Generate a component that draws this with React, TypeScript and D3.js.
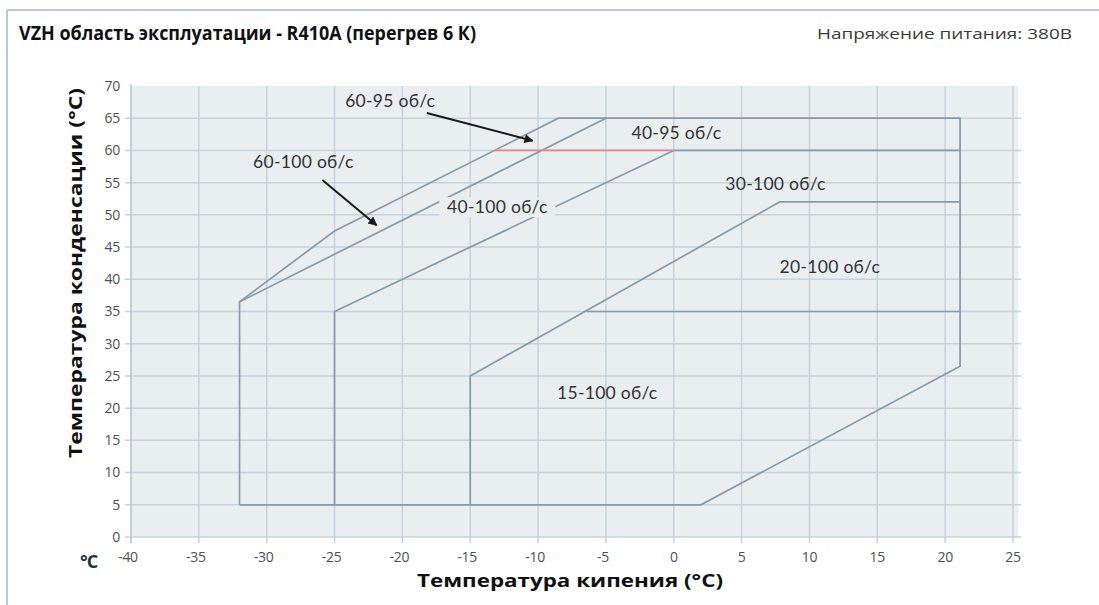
import React from 'react'
import * as d3 from 'd3'

// axis ticks
const xTicks = [-40, -35, -30, -25, -20, -15, -10, -5, 0, 5, 10, 15, 20, 25]
const yTicks = [0, 5, 10, 15, 20, 25, 30, 35, 40, 45, 50, 55, 60, 65, 70]

// envelope boundaries, [evaporating °C, condensing °C]
const envelope: [number, number][] = [[-32, 5], [2, 5], [21.1, 26.5], [21.1, 65], [-8.5, 65], [-25, 47.5], [-32, 36.5], [-32, 5]]
const line6095: [number, number][] = [[-32, 36.5], [-5, 65]]
const line4095: [number, number][] = [[0, 60], [21.1, 60]]
const redLine: [number, number][] = [[-13.2, 60], [0, 60]]
const line40100: [number, number][] = [[-25, 5], [-25, 35], [0, 60]]
const line30100: [number, number][] = [[-15, 5], [-15, 25], [7.8, 52], [21.1, 52]]
const line20100: [number, number][] = [[-6.4, 35], [21.1, 35]]

// speed zone labels
const zoneNames = ['60-95 об/с', '60-100 об/с', '40-100 об/с', '40-95 об/с', '30-100 об/с', '20-100 об/с', '15-100 об/с']
const zoneX = [-20.9, -27.3, -13.0, 0.2, 7.5, 11.5, -4.9]
const zoneY = [67.7, 58.2, 51.2, 62.7, 54.8, 41.9, 22.4]

// arrows from label to zone, [x1, y1, x2, y2]
const arrows = [[-18.2, 65.8, -10.4, 61.5], [-25.9, 55.4, -21.9, 48.4]]

const W = 1099
const H = 605

export default function App() {
  const x = d3.scaleLinear([-40, 25], [131, 1013])
  const y = d3.scaleLinear([0, 70], [537, 86])
  const line = d3.line<[number, number]>().x(d => x(d[0])).y(d => y(d[1]))

  const gridCol = '#c7d2da'
  const shapeCol = '#889ba7'
  const labelFont = 'Lato, "Open Sans", sans-serif'

  return (
    <svg width={W} height={H} style={{ position: 'absolute', left: 0, top: 0, background: '#fff' }}>
      <defs>
        <marker id="arr" viewBox="0 0 10 10" refX="9" refY="5" markerWidth="13" markerHeight="9" orient="auto" markerUnits="userSpaceOnUse">
          <path d="M0,0 L10,5 L0,10 z" fill="#1a1a1a" />
        </marker>
      </defs>
      {/* frame */}
      <line x1={7} x2={7} y1={10} y2={H} stroke="#a9b8c3" strokeWidth={1.5} />
      <line x1={7} x2={W} y1={10} y2={10} stroke="#a9b8c3" strokeWidth={1.5} />

      <text x={19} y={40} fontFamily='"Open Sans", sans-serif' fontWeight="bold" fontSize={20} fill="#111"
        textLength={457} lengthAdjust="spacingAndGlyphs">VZH область эксплуатации - R410A (перегрев 6 К)</text>
      <text x={1072} y={39} textAnchor="end" fontFamily='"Open Sans", sans-serif' fontSize={15} fill="#3a3a3a"
        textLength={255} lengthAdjust="spacingAndGlyphs">Напряжение питания: 380В</text>

      {/* plot background */}
      <rect x={x(-40)} y={y(70)} width={1018 - x(-40)} height={y(0) - y(70)} fill="#e9eef1" />

      {/* grid */}
      {yTicks.map(t => (
        <line key={'gy' + t} x1={125} x2={1021} y1={y(t)} y2={y(t)} stroke={gridCol} strokeWidth={1.5}
          opacity={t === 70 ? 0 : 1} />
      ))}
      {xTicks.map(t => (
        <line key={'gx' + t} x1={x(t)} x2={x(t)} y1={y(70)} y2={543} stroke={gridCol} strokeWidth={1.5} />
      ))}
      <line x1={x(-40)} x2={x(-40)} y1={y(70) - 2} y2={543} stroke="#bccad3" strokeWidth={1.5} />

      {/* tick labels */}
      {yTicks.map(t => (
        <text key={'ty' + t} x={120} y={y(t)} dy="0.35em" textAnchor="end" fontFamily='"Open Sans", sans-serif'
          fontSize={14} fill="#4e5155" letterSpacing={-0.3}>{t}</text>
      ))}
      {xTicks.map(t => (
        <text key={'tx' + t} x={x(t) - (t < 0 ? 3 : 0)} y={562} textAnchor="middle" fontFamily='"Open Sans", sans-serif'
          fontSize={14} fill="#4e5155" letterSpacing={-0.3}>{t}</text>
      ))}
      <text x={80} y={568} fontFamily='"Open Sans", sans-serif' fontWeight="bold" fontSize={18} fill="#1f2f45"
        letterSpacing={-1}>°C</text>

      {/* envelope lines */}
      {[envelope, line6095, line4095, line40100, line30100, line20100].map((l, i) => (
        <path key={'l' + i} d={line(l) ?? ''} fill="none" stroke={shapeCol} strokeWidth={1.7} />
      ))}
      <path d={line(redLine) ?? ''} fill="none" stroke="#e8877e" strokeWidth={1.8} />

      {/* zone labels */}
      {zoneNames.map((n, i) => (
        <g key={'z' + i}>
          {i === 2 && <rect x={x(zoneX[i]) - 58} y={y(zoneY[i]) - 10} width={116} height={20} fill="#e9eef1" />}
          <text x={x(zoneX[i])} y={y(zoneY[i])} dy="0.35em" textAnchor="middle" fontFamily={labelFont}
            fontSize={17.5} fill="#333" letterSpacing={0.3}>{n}</text>
        </g>
      ))}

      {arrows.map((a, i) => (
        <line key={'a' + i} x1={x(a[0])} y1={y(a[1])} x2={x(a[2])} y2={y(a[3])} stroke="#1a1a1a" strokeWidth={2}
          markerEnd="url(#arr)" />
      ))}

      {/* axis titles */}
      <text x={570} y={587} textAnchor="middle" fontFamily='"Open Sans", sans-serif' fontWeight="bold" fontSize={18}
        fill="#111" textLength={306} lengthAdjust="spacingAndGlyphs">Температура кипения (°C)</text>
      <text transform="translate(82,273) rotate(-90)" textAnchor="middle" fontFamily='"Open Sans", sans-serif'
        fontWeight="bold" fontSize={18} fill="#111" textLength={370} lengthAdjust="spacingAndGlyphs">Температура конденсации (°C)</text>
    </svg>
  )
}
